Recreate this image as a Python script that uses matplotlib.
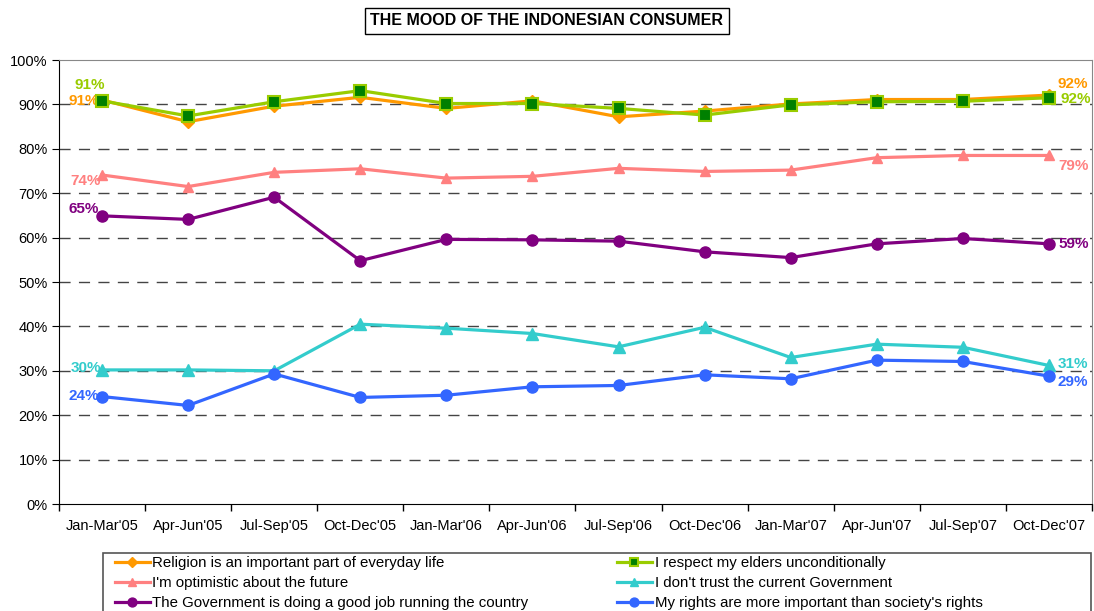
import matplotlib
matplotlib.use("Agg")
import matplotlib.pyplot as plt
from matplotlib.ticker import FuncFormatter, FixedLocator
from matplotlib.patches import Rectangle

plt.rcParams['font.family'] = ['Liberation Sans', 'DejaVu Sans']

categories = ["Jan-Mar'05", "Apr-Jun'05", "Jul-Sep'05", "Oct-Dec'05", "Jan-Mar'06", "Apr-Jun'06",
              "Jul-Sep'06", "Oct-Dec'06", "Jan-Mar'07", "Apr-Jun'07", "Jul-Sep'07", "Oct-Dec'07"]

religion = [91.0, 86.1, 89.6, 91.6, 89.1, 90.8, 87.2, 88.5, 90.1, 91.1, 91.1, 92.1]
elders = [90.8, 87.4, 90.6, 93.1, 90.2, 90.2, 89.1, 87.6, 89.9, 90.6, 90.7, 91.5]
optimistic = [74.1, 71.5, 74.7, 75.5, 73.4, 73.8, 75.6, 74.9, 75.2, 78.0, 78.5, 78.5]
no_trust = [30.2, 30.2, 30.0, 40.5, 39.6, 38.4, 35.4, 39.8, 33.0, 36.0, 35.3, 31.2]
gov_good = [64.9, 64.1, 69.1, 54.8, 59.6, 59.5, 59.2, 56.8, 55.5, 58.6, 59.8, 58.6]
rights = [24.2, 22.2, 29.3, 24.0, 24.5, 26.4, 26.7, 29.1, 28.2, 32.4, 32.1, 28.8]

names = ["Religion is an important part of everyday life",
         "I respect my elders unconditionally",
         "I'm optimistic about the future",
         "I don't trust the current Government",
         "The Government is doing a good job running the country",
         "My rights are more important than society's rights"]

left_labels = ["91%", "91%", "74%", "30%", "65%", "24%"]
right_labels = ["92%", "92%", "79%", "31%", "59%", "29%"]

series = [religion, elders, optimistic, no_trust, gov_good, rights]
styles = [
    dict(color="#FF9900", marker="D", mfc="#FF9900", mec="#FF9900", ms=6),
    dict(color="#99CC00", marker="s", mfc="#008000", mec="#99CC00", ms=8, mew=1.5),
    dict(color="#FF8080", marker="^", mfc="#FF8080", mec="#FF8080", ms=7),
    dict(color="#33CCCC", marker="^", mfc="#33CCCC", mec="#33CCCC", ms=8),
    dict(color="#800080", marker="o", mfc="#800080", mec="#800080", ms=8),
    dict(color="#3366FF", marker="o", mfc="#3366FF", mec="#3366FF", ms=8),
]
# label offsets in pixels
left_off = [(-3, -1), (3, 16), (-1, -6), (-1, 2), (-3, 7), (-3, 1)]
right_off = [(9, 11), (12, -1), (9, -11), (9, 1), (9, 0), (9, -6)]

fig = plt.figure(figsize=(10.94, 6.11), dpi=100)
ax = fig.add_axes([0.0539, 0.1751, 0.9443, 0.7267])

x = list(range(len(categories)))
handles = []
zorders = [3, 4, 3, 3, 3, 3]
for i, (vals, st) in enumerate(zip(series, styles)):
    h, = ax.plot(x, vals, lw=2.3, label=names[i], zorder=zorders[i], **st)
    handles.append(h)
    col = st["color"]
    ax.annotate(left_labels[i], (x[0], vals[0]), xytext=left_off[i], textcoords='offset pixels',
                ha='right', va='center', color=col, fontsize=11, fontweight='bold')
    ax.annotate(right_labels[i], (x[-1], vals[-1]), xytext=right_off[i], textcoords='offset pixels',
                ha='left', va='center', color=col, fontsize=11, fontweight='bold',
                annotation_clip=False)

ax.set_xlim(-0.5, len(categories) - 0.5)
ax.set_ylim(0, 100)
ax.set_yticks(range(0, 101, 10))
ax.yaxis.set_major_formatter(FuncFormatter(lambda v, p: f"{int(v)}%"))
ax.set_xticks(x)
ax.set_xticklabels(categories, fontsize=10.5)
ax.xaxis.set_minor_locator(FixedLocator([i - 0.5 for i in range(len(categories) + 1)]))
ax.tick_params(axis='x', which='major', length=0, pad=11)
ax.tick_params(axis='x', which='minor', length=5, width=1, color='black', direction='out')
ax.tick_params(axis='y', labelsize=10.5, length=5, direction='out', pad=3)

for yv in range(10, 100, 10):
    ax.axhline(yv, color='#444444', lw=1, ls=(0, (8, 6)), zorder=1)

ax.spines['left'].set_color('black')
ax.spines['bottom'].set_color('black')
ax.spines['top'].set_color('#888888')
ax.spines['right'].set_color('#888888')

fig.text(0.5, 0.966, "THE MOOD OF THE INDONESIAN CONSUMER", ha='center', va='center',
         fontsize=11.5, fontweight='bold',
         bbox=dict(boxstyle='square,pad=0.35', fc='white', ec='black', lw=1))

# legend box
W, H = 1094, 611
fig.patches.append(Rectangle((103 / W, -0.05), (1091 - 103) / W, 0.05 + (H - 553) / H,
                             transform=fig.transFigure, fc='white', ec='#555555', lw=1.2))

leg_handles = [handles[i] for i in [0, 2, 4, 1, 3, 5]]
leg = fig.legend(handles=leg_handles, loc='upper left', bbox_to_anchor=(115 / W, 1 - 556 / H),
                 ncol=2, fontsize=10.8, frameon=False, borderpad=0, borderaxespad=0,
                 handlelength=2.3, handletextpad=0.2, labelspacing=0.4, columnspacing=5.9,
                 markerscale=0.8)

fig.savefig("out.png", dpi=100)
